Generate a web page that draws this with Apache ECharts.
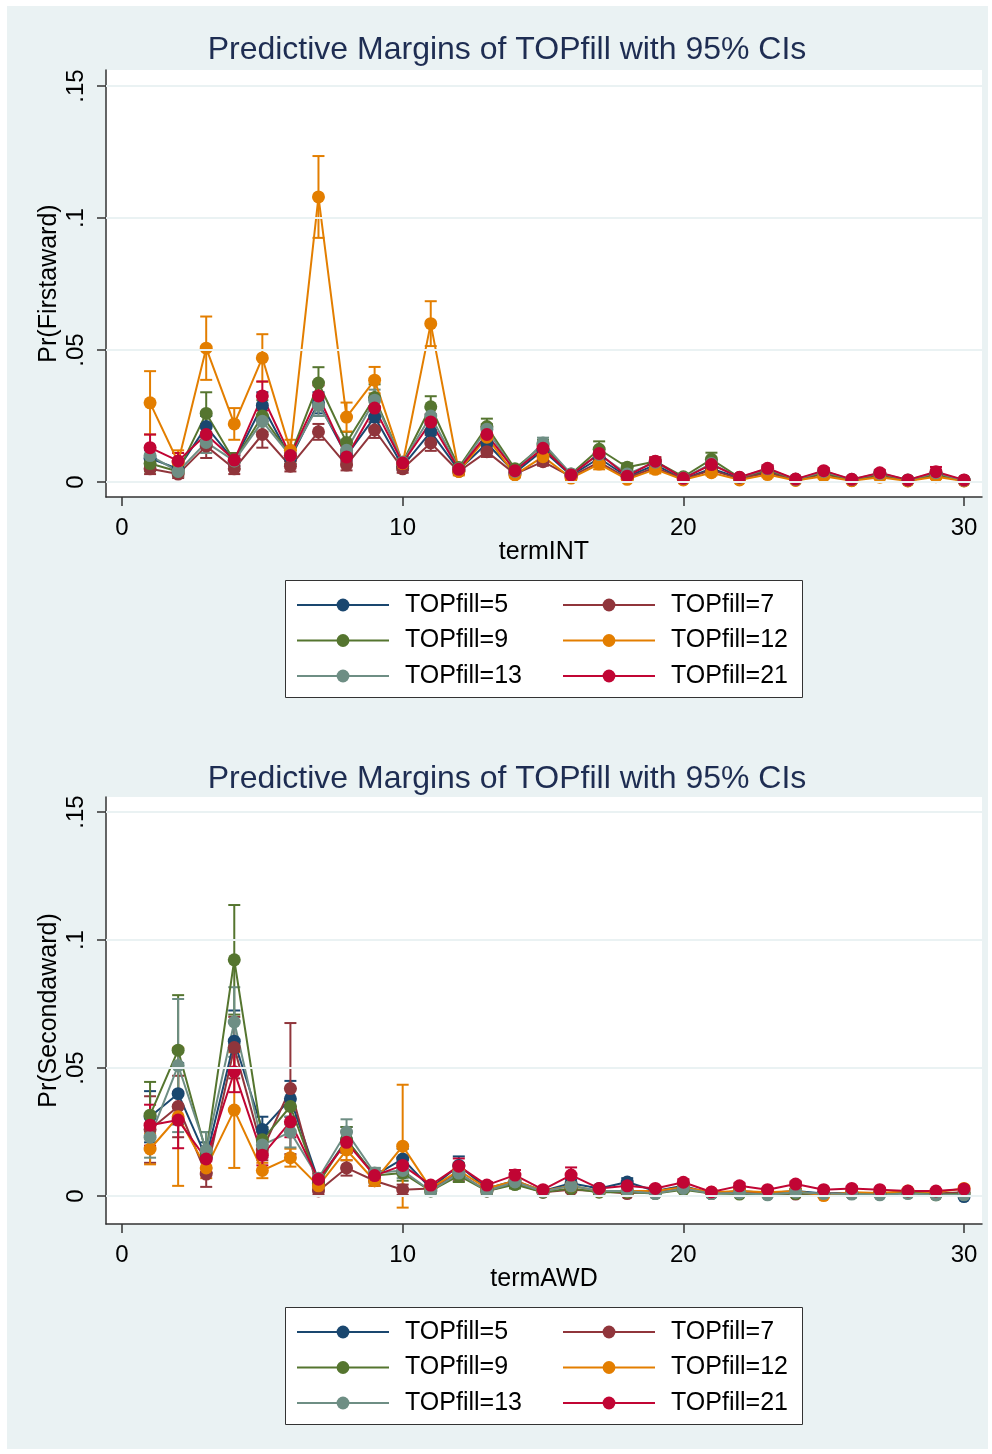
<!DOCTYPE html>
<html>
<head>
<meta charset="utf-8">
<script src="https://cdn.jsdelivr.net/npm/echarts@6/dist/echarts.min.js"></script>
<style>
  html, body { margin: 0; padding: 0; background: #fff; }
  #panel { position: absolute; left: 7px; top: 6px; width: 981px; height: 1443px; background: #eaf2f3; }
  .chart { position: absolute; left: 0; width: 992px; height: 727px; }
</style>
</head>
<body>
<div id="panel"></div>
<div id="chart1" class="chart" style="top:0"></div>
<div id="chart2" class="chart" style="top:727px"></div>
<script>
// term index 1..30 on the x axis
const terms = [1,2,3,4,5,6,7,8,9,10,11,12,13,14,15,16,17,18,19,20,21,22,23,24,25,26,27,28,29,30];
const groups = ['TOPfill=5', 'TOPfill=7', 'TOPfill=9', 'TOPfill=12', 'TOPfill=13', 'TOPfill=21'];
const colors = ['#1a476f', '#90353b', '#55752f', '#e37e00', '#6e8e84', '#c10534'];
const xTicks = [0, 10, 20, 30];
const yTicks = [0, 0.05, 0.1, 0.15];
const yTickLabels = ['0', '.05', '.1', '.15'];

// Pr(Firstaward) by termINT -- margins and CI half widths
const first5 = [0.009,0.005,0.021,0.008,0.029,0.009,0.030,0.010,0.0246,0.006,0.019,0.0045,0.0147,0.0035,0.012,0.0025,0.009,0.002,0.0065,0.0012,0.005,0.0015,0.004,0.0009,0.0033,0.0008,0.0028,0.0006,0.003,0.0006];
const first5ci = [0.003,0.002,0.004,0.002,0.005,0.002,0.004,0.002,0.004,0.0015,0.003,0.001,0.002,0.001,0.002,0.0008,0.0015,0.0006,0.0012,0.0004,0.001,0.0005,0.0009,0.0003,0.0008,0.0003,0.0007,0.0002,0.0008,0.0002];
const first7 = [0.005,0.003,0.0136,0.005,0.018,0.006,0.019,0.0064,0.0197,0.005,0.0148,0.004,0.0115,0.003,0.0077,0.002,0.0075,0.0015,0.0055,0.001,0.0045,0.0012,0.0035,0.0008,0.003,0.0006,0.0025,0.0005,0.0025,0.0005];
const first7ci = [0.002,0.0015,0.0045,0.002,0.005,0.002,0.003,0.002,0.003,0.0015,0.003,0.001,0.002,0.001,0.0015,0.0007,0.0015,0.0005,0.001,0.0004,0.001,0.0004,0.0008,0.0003,0.0007,0.0002,0.0006,0.0002,0.0007,0.0002];
const first9 = [0.007,0.004,0.026,0.008,0.025,0.010,0.0375,0.015,0.032,0.0075,0.0285,0.0055,0.021,0.005,0.014,0.003,0.0124,0.0056,0.0078,0.002,0.0086,0.0017,0.0045,0.001,0.0035,0.0008,0.003,0.0007,0.003,0.0006];
const first9ci = [0.003,0.002,0.008,0.003,0.006,0.003,0.006,0.004,0.005,0.002,0.004,0.0015,0.003,0.0015,0.002,0.001,0.003,0.0015,0.0015,0.0008,0.0025,0.0006,0.0012,0.0005,0.001,0.0004,0.001,0.0003,0.001,0.0003];
const first12 = [0.030,0.0075,0.0507,0.022,0.047,0.012,0.108,0.0246,0.0386,0.007,0.060,0.004,0.017,0.0027,0.0096,0.0015,0.0068,0.001,0.0048,0.0008,0.0035,0.0008,0.0028,0.0006,0.0022,0.0005,0.0018,0.0004,0.002,0.0004];
const first12ci = [0.012,0.0045,0.012,0.006,0.009,0.004,0.0155,0.0055,0.005,0.002,0.0085,0.0015,0.005,0.001,0.002,0.0008,0.002,0.0005,0.0015,0.0004,0.001,0.0004,0.001,0.0003,0.0008,0.0003,0.0007,0.0002,0.0008,0.0002];
const first13 = [0.010,0.004,0.015,0.008,0.023,0.010,0.029,0.012,0.031,0.0075,0.025,0.005,0.020,0.004,0.0148,0.003,0.0105,0.003,0.0075,0.0015,0.007,0.0017,0.005,0.001,0.004,0.001,0.0033,0.0008,0.0035,0.0007];
const first13ci = [0.003,0.002,0.004,0.002,0.005,0.002,0.004,0.003,0.004,0.002,0.003,0.0015,0.002,0.001,0.002,0.0008,0.0015,0.0008,0.0012,0.0005,0.001,0.0005,0.0009,0.0003,0.0008,0.0003,0.0007,0.0002,0.0008,0.0002];
const first21 = [0.013,0.008,0.018,0.0083,0.0326,0.010,0.0326,0.0095,0.028,0.0072,0.0227,0.0048,0.018,0.0043,0.0128,0.0027,0.0108,0.0022,0.0079,0.0014,0.0066,0.0018,0.0052,0.0011,0.0043,0.001,0.0035,0.0008,0.0039,0.0008];
const first21ci = [0.005,0.003,0.004,0.002,0.0055,0.002,0.004,0.002,0.004,0.0015,0.003,0.001,0.003,0.001,0.002,0.001,0.002,0.0008,0.0015,0.0005,0.0015,0.0006,0.0012,0.0005,0.001,0.0004,0.001,0.0003,0.0018,0.0003];

// Pr(Secondaward) by termAWD
const second5 = [0.031,0.040,0.015,0.0605,0.026,0.038,0.006,0.022,0.008,0.0145,0.003,0.012,0.003,0.006,0.002,0.005,0.003,0.0055,0.002,0.004,0.001,0.002,0.0012,0.002,0.001,0.0012,0.001,0.0015,0.0008,-0.0002];
const second5ci = [0.010,0.012,0.006,0.012,0.005,0.007,0.002,0.005,0.002,0.004,0.0015,0.0035,0.0012,0.002,0.001,0.0015,0.001,0.0015,0.0008,0.0012,0.0005,0.0008,0.0005,0.0008,0.0005,0.0006,0.0005,0.0006,0.0004,0.0005];
const second7 = [0.026,0.035,0.0086,0.058,0.018,0.042,0.002,0.011,0.006,0.0025,0.003,0.009,0.002,0.005,0.0015,0.0025,0.002,0.001,0.002,0.003,0.0012,0.0015,0.001,0.0008,0.001,0.001,0.001,0.0012,0.001,0.0015];
const second7ci = [0.013,0.012,0.005,0.012,0.004,0.0256,0.0015,0.003,0.002,0.002,0.0012,0.003,0.001,0.0015,0.0008,0.001,0.0008,0.0006,0.0008,0.001,0.0005,0.0006,0.0005,0.0004,0.0005,0.0005,0.0005,0.0005,0.0004,0.0006];
const second9 = [0.0316,0.057,0.017,0.0923,0.022,0.035,0.005,0.022,0.008,0.009,0.002,0.008,0.002,0.0045,0.0015,0.003,0.0015,0.0015,0.001,0.0025,0.001,0.0008,0.0008,0.001,0.0008,0.001,0.001,0.0015,0.0005,0.001];
const second9ci = [0.013,0.0215,0.008,0.0214,0.005,0.007,0.002,0.005,0.003,0.003,0.001,0.0025,0.001,0.0015,0.0008,0.001,0.0008,0.0008,0.0005,0.0008,0.0005,0.0004,0.0004,0.0005,0.0004,0.0005,0.0005,0.0006,0.0003,0.0005];
const second12 = [0.0184,0.031,0.011,0.0336,0.010,0.015,0.004,0.018,0.006,0.0195,0.003,0.010,0.003,0.006,0.002,0.004,0.002,0.002,0.002,0.0035,0.0015,0.002,0.0015,0.002,0.0002,0.0015,0.0012,0.002,0.0015,0.003];
const second12ci = [0.006,0.027,0.004,0.0226,0.003,0.0035,0.0015,0.004,0.002,0.024,0.0012,0.003,0.001,0.0015,0.0008,0.0012,0.0008,0.0008,0.0008,0.001,0.0006,0.0008,0.0006,0.0008,0.0004,0.0006,0.0005,0.0008,0.0006,0.001];
const second13 = [0.023,0.051,0.018,0.068,0.020,0.025,0.007,0.025,0.009,0.010,0.002,0.009,0.002,0.0055,0.0018,0.004,0.002,0.002,0.001,0.003,0.001,0.0012,0.0005,0.0015,0.001,0.0008,0.0005,0.001,0.0005,0.0005];
const second13ci = [0.008,0.026,0.007,0.0136,0.005,0.006,0.002,0.005,0.002,0.003,0.001,0.0025,0.001,0.0015,0.0008,0.001,0.0008,0.0008,0.0005,0.0008,0.0005,0.0005,0.0004,0.0005,0.0004,0.0004,0.0004,0.0005,0.0003,0.0004];
const second21 = [0.0277,0.0297,0.0145,0.0486,0.016,0.029,0.0066,0.021,0.008,0.012,0.0043,0.0117,0.0043,0.0082,0.0025,0.0082,0.003,0.004,0.003,0.0054,0.0016,0.004,0.0025,0.0047,0.0025,0.003,0.0025,0.002,0.002,0.0028];
const second21ci = [0.008,0.011,0.005,0.008,0.004,0.006,0.002,0.004,0.002,0.003,0.0012,0.003,0.0012,0.002,0.0008,0.003,0.0008,0.001,0.0008,0.0012,0.0005,0.001,0.0006,0.001,0.0006,0.0007,0.0006,0.0006,0.0005,0.0007];

const FONT = '"Liberation Sans", Arial, sans-serif';
const AXIS_COLOR = '#333';

// 95% CI drawn as a capped vertical bar
function ciRender(params, api) {
  const x = api.value(0);
  const lo = api.coord([x, api.value(1)]);
  const hi = api.coord([x, api.value(2)]);
  const w = 6;
  const style = { stroke: api.visual('color'), lineWidth: 2, fill: null };
  return {
    type: 'group',
    children: [
      { type: 'line', shape: { x1: lo[0], y1: lo[1], x2: hi[0], y2: hi[1] }, style },
      { type: 'line', shape: { x1: lo[0] - w, y1: lo[1], x2: lo[0] + w, y2: lo[1] }, style },
      { type: 'line', shape: { x1: hi[0] - w, y1: hi[1], x2: hi[0] + w, y2: hi[1] }, style },
    ],
  };
}

function buildOption(cfg) {
  const ciSeries = groups.map((g, k) => ({
    name: 'ci ' + g,
    type: 'custom',
    renderItem: ciRender,
    itemStyle: { color: colors[k] },
    encode: { x: 0, y: [1, 2] },
    data: terms.map((t, i) => [t, cfg.points[k][i] - cfg.cis[k][i], cfg.points[k][i] + cfg.cis[k][i]]),
    z: 2,
    silent: true,
  }));
  const lineSeries = groups.map((g, k) => ({
    name: g,
    type: 'line',
    data: terms.map((t, i) => [t, cfg.points[k][i]]),
    symbol: 'circle',
    symbolSize: 13,
    color: colors[k],
    lineStyle: { width: 2 },
    z: 3,
  }));
  const gridSeries = {
    name: 'grid',
    type: 'line',
    data: [],
    z: 1,
    markLine: {
      silent: true,
      symbol: ['none', 'none'],
      label: { show: false },
      lineStyle: { color: '#eaf2f3', width: 2, type: 'solid' },
      data: yTicks.map(v => ({ yAxis: v })),
    },
  };

  const legendBase = {
    orient: 'vertical',
    top: 592,
    padding: 0,
    itemWidth: 92,
    itemHeight: 16,
    itemGap: 9.5,
    selectedMode: false,
    textStyle: { fontFamily: FONT, fontSize: 25, color: '#000', lineHeight: 26, padding: [0, 0, 0, 11] },
  };

  return {
    animation: false,
    title: {
      text: 'Predictive Margins of TOPfill with 95% CIs',
      left: 502,
      textAlign: 'center',
      top: cfg.titleTop,
      textStyle: { fontFamily: FONT, fontSize: 32, fontWeight: 'normal', color: '#1e2d52', lineHeight: 36 },
    },
    grid: {
      left: 106, top: 70, width: 876, height: 427,
      show: true, backgroundColor: '#fff', borderWidth: 0,
    },
    xAxis: {
      type: 'value',
      min: -0.57,
      max: 30.64,
      name: cfg.xName,
      nameLocation: 'middle',
      nameGap: 43,
      nameMoveOverlap: false,
      nameTextStyle: { fontFamily: FONT, fontSize: 25, color: '#000' },
      axisLine: { show: true, onZero: false, lineStyle: { color: AXIS_COLOR, width: 1.5 } },
      axisTick: { show: true, length: 9, customValues: xTicks, lineStyle: { color: AXIS_COLOR, width: 1.5 } },
      axisLabel: { customValues: xTicks, margin: 19, fontFamily: FONT, fontSize: 24, color: '#000' },
      splitLine: { show: false },
    },
    yAxis: {
      type: 'value',
      min: cfg.yMin,
      max: cfg.yMax,
      name: cfg.yName,
      nameLocation: 'middle',
      nameRotate: 90,
      nameGap: 44,
      nameMoveOverlap: false,
      nameTextStyle: { fontFamily: FONT, fontSize: 25, color: '#000' },
      axisLine: { show: true, onZero: false, lineStyle: { color: AXIS_COLOR, width: 1.5 } },
      axisTick: { show: true, length: 9, customValues: yTicks, lineStyle: { color: AXIS_COLOR, width: 1.5 } },
      axisLabel: {
        customValues: yTicks,
        rotate: 90,
        margin: 18,
        fontFamily: FONT,
        fontSize: 24,
        color: '#000',
        formatter: v => {
          const idx = yTicks.findIndex(t => Math.abs(t - v) < 1e-9);
          return idx >= 0 ? yTickLabels[idx] : '';
        },
      },
      splitLine: { show: false },
    },
    legend: [
      Object.assign({}, legendBase, { left: 296, data: [groups[0], groups[2], groups[4]] }),
      Object.assign({}, legendBase, { left: 562, data: [groups[1], groups[3], groups[5]] }),
    ],
    graphic: [{
      type: 'rect',
      left: 285,
      top: 580,
      z: -1,
      shape: { width: 517, height: 117 },
      style: { fill: '#fff', stroke: '#333', lineWidth: 1 },
    }],
    series: [gridSeries].concat(ciSeries, lineSeries),
  };
}

const chart1 = echarts.init(document.getElementById('chart1'));
chart1.setOption(buildOption({
  titleTop: 27,
  xName: 'termINT',
  yName: 'Pr(Firstaward)',
  yMin: -0.00568,
  yMax: 0.1561,
  points: [first5, first7, first9, first12, first13, first21],
  cis: [first5ci, first7ci, first9ci, first12ci, first13ci, first21ci],
}));

const chart2 = echarts.init(document.getElementById('chart2'));
chart2.setOption(buildOption({
  titleTop: 29,
  xName: 'termAWD',
  yName: 'Pr(Secondaward)',
  yMin: -0.0109,
  yMax: 0.1559,
  points: [second5, second7, second9, second12, second13, second21],
  cis: [second5ci, second7ci, second9ci, second12ci, second13ci, second21ci],
}));
</script>
</body>
</html>
